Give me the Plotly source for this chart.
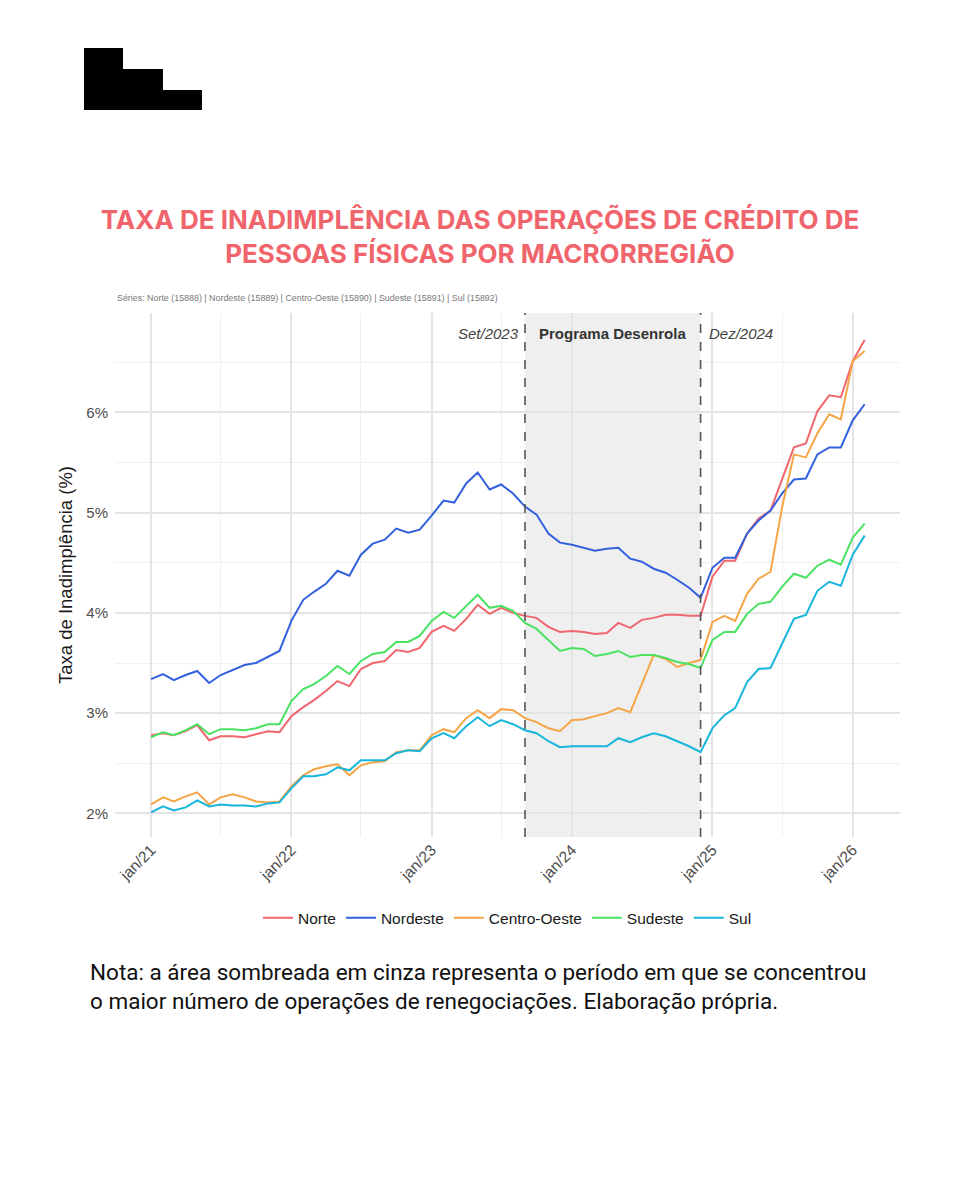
# Taxa de inadimplencia PF por macrorregiao - linhas mensais
import plotly.graph_objects as go
import pandas as pd

# datas mensais (jan/21 a fev/26)
meses = pd.date_range("2021-01-01", periods=62, freq="MS")

norte = [2.78, 2.80, 2.78, 2.82, 2.88, 2.73, 2.77, 2.77, 2.76, 2.79, 2.82, 2.81,
         2.97, 3.06, 3.13, 3.22, 3.32, 3.27, 3.44, 3.50, 3.52, 3.63, 3.61, 3.65,
         3.81, 3.87, 3.82, 3.94, 4.08, 3.99, 4.05, 4.00, 3.97, 3.95, 3.86, 3.81,
         3.82, 3.81, 3.79, 3.80, 3.90, 3.85, 3.93, 3.95, 3.98, 3.98, 3.97, 3.97,
         4.36, 4.52, 4.52, 4.79, 4.94, 5.02, 5.34, 5.65, 5.69, 6.01, 6.17, 6.15,
         6.51, 6.72]
nordeste = [3.34, 3.39, 3.33, 3.38, 3.42, 3.30, 3.38, 3.43, 3.48, 3.50, 3.56, 3.62,
            3.92, 4.13, 4.21, 4.29, 4.42, 4.37, 4.58, 4.69, 4.73, 4.84, 4.80, 4.83,
            4.97, 5.12, 5.10, 5.29, 5.40, 5.23, 5.28, 5.19, 5.06, 4.98, 4.79, 4.70,
            4.68, 4.65, 4.62, 4.64, 4.65, 4.54, 4.51, 4.44, 4.40, 4.33, 4.25, 4.15,
            4.45, 4.55, 4.55, 4.79, 4.92, 5.02, 5.19, 5.33, 5.34, 5.58, 5.65, 5.65,
            5.92, 6.08]
centro_oeste = [2.09, 2.16, 2.12, 2.17, 2.21, 2.09, 2.16, 2.19, 2.16, 2.12, 2.11, 2.12,
                2.27, 2.38, 2.44, 2.47, 2.49, 2.38, 2.48, 2.51, 2.52, 2.61, 2.63, 2.63,
                2.78, 2.84, 2.81, 2.95, 3.03, 2.95, 3.04, 3.03, 2.95, 2.91, 2.85, 2.82,
                2.93, 2.94, 2.97, 3.00, 3.05, 3.01, 3.29, 3.58, 3.54, 3.46, 3.50, 3.53,
                3.91, 3.97, 3.92, 4.19, 4.34, 4.41, 5.05, 5.58, 5.55, 5.79, 5.98, 5.93,
                6.51, 6.61]
sudeste = [2.76, 2.81, 2.78, 2.83, 2.89, 2.79, 2.84, 2.84, 2.83, 2.85, 2.89, 2.89,
           3.12, 3.24, 3.29, 3.37, 3.47, 3.39, 3.52, 3.59, 3.61, 3.71, 3.71, 3.77,
           3.92, 4.01, 3.95, 4.07, 4.18, 4.05, 4.07, 4.02, 3.90, 3.84, 3.73, 3.62,
           3.65, 3.64, 3.57, 3.59, 3.62, 3.56, 3.58, 3.58, 3.55, 3.51, 3.49, 3.45,
           3.73, 3.81, 3.81, 3.99, 4.09, 4.11, 4.26, 4.39, 4.35, 4.47, 4.53, 4.48,
           4.75, 4.89]
sul = [2.01, 2.07, 2.03, 2.06, 2.13, 2.07, 2.09, 2.08, 2.08, 2.07, 2.10, 2.11,
       2.25, 2.37, 2.37, 2.39, 2.46, 2.43, 2.53, 2.53, 2.53, 2.60, 2.63, 2.62,
       2.75, 2.80, 2.75, 2.87, 2.96, 2.87, 2.93, 2.89, 2.83, 2.80, 2.72, 2.66,
       2.67, 2.67, 2.67, 2.67, 2.75, 2.71, 2.76, 2.80, 2.77, 2.72, 2.67, 2.61,
       2.85, 2.98, 3.05, 3.31, 3.44, 3.45, 3.69, 3.94, 3.98, 4.22, 4.31, 4.27,
       4.58, 4.77]

regioes = ["Norte", "Nordeste", "Centro-Oeste", "Sudeste", "Sul"]
series = [norte, nordeste, centro_oeste, sudeste, sul]
cores = ["#F0666E", "#3360DD", "#F5A546", "#4BE262", "#17B6DA"]

# eixo x / y
anos_ticks = ["2021-01-01", "2022-01-01", "2023-01-01", "2024-01-01", "2025-01-01", "2026-01-01"]
anos_labels = ["jan/21", "jan/22", "jan/23", "jan/24", "jan/25", "jan/26"]
meio_ano = ["2021-07-01", "2022-07-01", "2023-07-01", "2024-07-01", "2025-07-01"]
y_ticks = [2, 3, 4, 5, 6]
y_labels = ["2%", "3%", "4%", "5%", "6%"]
y_minor = [2.5, 3.5, 4.5, 5.5, 6.5]

# periodo do Desenrola
inicio = "2023-09-01"
fim = "2024-12-01"
meio = pd.Timestamp(inicio) + (pd.Timestamp(fim) - pd.Timestamp(inicio)) / 2

# plot area in page pixels; the page body adds an 8px offset
OFF = 8
L, R, T, B = 115, 900, 313, 837


def px(x, y):
    return (x - L) / (R - L), (B - y) / (B - T)


fig = go.Figure()
for nome, valores, cor in zip(regioes, series, cores):
    fig.add_trace(go.Scatter(x=meses, y=valores, name=nome, mode="lines",
                             line=dict(color=cor, width=2)))

# shaded area + dashed limits
fig.add_shape(type="rect", xref="x", yref="y domain", x0=inicio, x1=fim, y0=0, y1=1,
              fillcolor="#EFEFEF", line_width=0, layer="below")
for d in [inicio, fim]:
    fig.add_shape(type="line", xref="x", yref="y domain", x0=d, x1=d, y0=0, y1=1,
                  line=dict(color="#555555", width=1.6, dash="dash"))

ty = 0.961
fig.add_annotation(x=inicio, y=ty, xref="x", yref="paper", text="<i>Set/2023</i>",
                   xanchor="right", yanchor="middle", xshift=-4, showarrow=False,
                   font=dict(family="Liberation Sans", size=15, color="#444444"))
fig.add_annotation(x=meio, y=ty, xref="x", yref="paper", text="<b>Programa Desenrola</b>",
                   xanchor="center", yanchor="middle", showarrow=False,
                   font=dict(family="Liberation Sans", size=15, color="#333333"))
fig.add_annotation(x=fim, y=ty, xref="x", yref="paper", text="<i>Dez/2024</i>",
                   xanchor="left", yanchor="middle", xshift=6, showarrow=False,
                   font=dict(family="Liberation Sans", size=15, color="#444444"))

# subtitle
sx, sy = px(115, 298)
fig.add_annotation(x=sx, y=sy, xref="paper", yref="paper", xanchor="left", yanchor="middle",
                   text="Séries: Norte (15888) | Nordeste (15889) | Centro-Oeste (15890) | Sudeste (15891) | Sul (15892)",
                   showarrow=False, font=dict(family="Liberation Sans", size=8.9, color="#777777"))

# note
nx, ny = px(88, 986.5)
fig.add_annotation(x=nx, y=ny, xref="paper", yref="paper", xanchor="left", yanchor="middle", align="left",
                   text="Nota: a área sombreada em cinza representa o período em que se concentrou<br>"
                        "o maior número de operações de renegociações. Elaboração própria.",
                   showarrow=False, font=dict(family="Roboto", size=22.5, color="#111111"))

# logo
pts = [(84, 48), (123, 48), (123, 69), (163, 69), (163, 90), (202, 90), (202, 110), (84, 110)]
path = "M " + " L ".join("%.4f,%.4f" % px(a, b) for a, b in pts) + " Z"
fig.add_shape(type="path", xref="paper", yref="paper", path=path,
              fillcolor="black", line_width=0)

fig.update_layout(
    width=960, height=1200,
    margin=dict(l=L - OFF, r=960 - (R - OFF), t=T - OFF, b=1200 - (B - OFF)),
    paper_bgcolor="white", plot_bgcolor="white",
    title=dict(text="TAXA DE INADIMPLÊNCIA DAS OPERAÇÕES DE CRÉDITO DE<br>PESSOAS FÍSICAS POR MACRORREGIÃO",
               x=0.5 - OFF / 960, xanchor="center", xref="container",
               y=1 - 221 / 1200, yanchor="top", yref="container",
               font=dict(family="Inter", size=26, color="#F0646C", weight="bold")),
    xaxis=dict(range=["2020-09-29", "2026-05-04"], tickvals=anos_ticks, ticktext=anos_labels,
               tickangle=-45, showline=False, zeroline=False,
               showgrid=True, gridcolor="#E4E4E4", gridwidth=1.5,
               tickfont=dict(family="Liberation Sans", size=15.5, color="#4D4D4D"),
               minor=dict(tickvals=meio_ano, showgrid=True, gridcolor="#F0F0F0", gridwidth=1)),
    yaxis=dict(range=[1.765, 6.99], tickvals=y_ticks, ticktext=y_labels,
               showline=False, zeroline=False, ticklabelstandoff=6,
               showgrid=True, gridcolor="#E4E4E4", gridwidth=1.5,
               tickfont=dict(family="Liberation Sans", size=15, color="#4D4D4D"),
               minor=dict(tickvals=y_minor, showgrid=True, gridcolor="#F0F0F0", gridwidth=1),
               title=dict(text="Taxa de Inadimplência (%)", standoff=8,
                          font=dict(family="Liberation Sans", size=18.5, color="#1A1A1A"))),
    legend=dict(orientation="h", x=0.5, xanchor="center", y=-0.155, yanchor="middle",
                itemwidth=30, font=dict(family="Liberation Sans", size=15.5, color="#1A1A1A")),
)

fig.write_html("out.html")
